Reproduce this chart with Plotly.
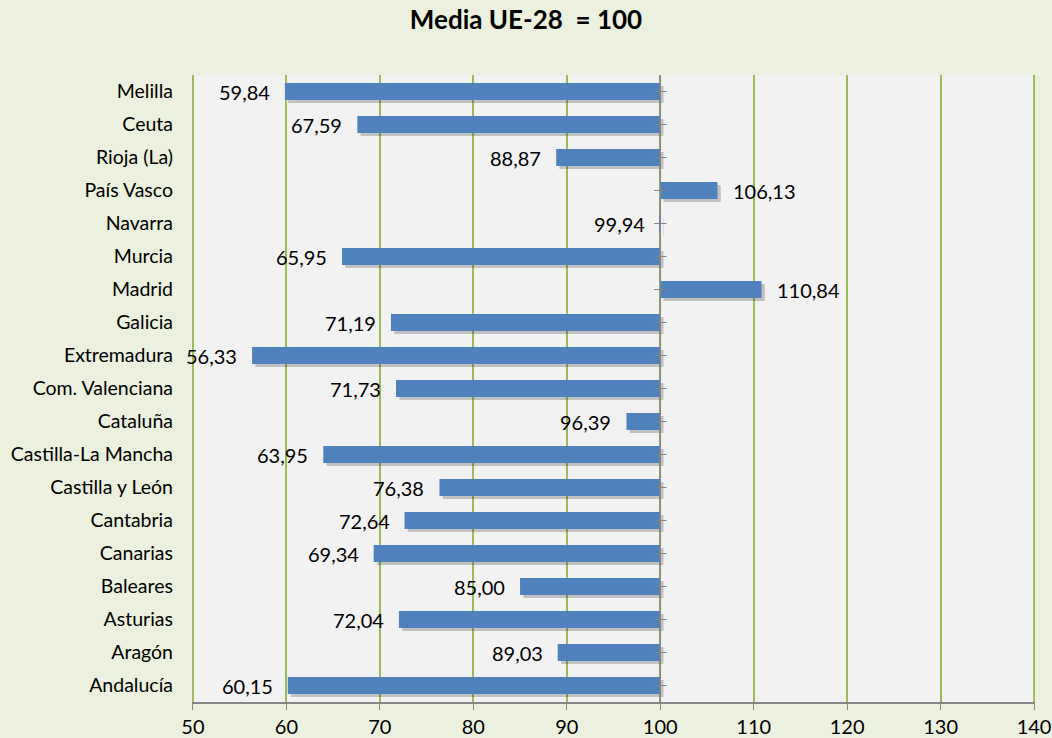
import plotly.graph_objects as go

regions = ["Andalucía", "Aragón", "Asturias", "Baleares", "Canarias", "Cantabria",
           "Castilla y León", "Castilla-La Mancha", "Cataluña", "Com. Valenciana",
           "Extremadura", "Galicia", "Madrid", "Murcia", "Navarra", "País Vasco",
           "Rioja (La)", "Ceuta", "Melilla"]
values = [60.15, 89.03, 72.04, 85.00, 69.34, 72.64, 76.38, 63.95, 96.39, 71.73,
          56.33, 71.19, 110.84, 65.95, 99.94, 106.13, 88.87, 67.59, 59.84]
BASE = 100
x_ticks = [50, 60, 70, 80, 90, 100, 110, 120, 130, 140]

labels = [f"{v:.2f}".replace(".", ",") for v in values]
FONT = "Lato, Open Sans, sans-serif"
BAR_W = 0.52
SHADOW_DX = 0.35
GRID = "#9bbb59"

fig = go.Figure()
# edge gridlines (plotly drops gridlines at the plot edges)
for gx in (x_ticks[0], x_ticks[-1]):
    fig.add_shape(type="line", xref="x", yref="paper", x0=gx, x1=gx, y0=0, y1=1,
                  line=dict(color=GRID, width=2), layer="below")
# shadow
fig.add_trace(go.Bar(
    y=regions, x=[v - BASE for v in values], base=[BASE + SHADOW_DX] * len(values),
    orientation="h", width=BAR_W, offset=-BAR_W / 2 - 0.09,
    marker=dict(color="rgba(0,0,0,0.2)", line=dict(width=0)),
    hoverinfo="skip", showlegend=False))
# bars
fig.add_trace(go.Bar(
    y=regions, x=[v - BASE for v in values], base=[BASE] * len(values),
    orientation="h", width=BAR_W,
    marker=dict(color="#4f81bd", line=dict(width=0)),
    showlegend=False))
# category axis line at base with ticks
fig.add_trace(go.Scatter(
    y=regions, x=[BASE] * len(regions), mode="markers",
    marker=dict(symbol="line-ew", size=9, line=dict(color="#868686", width=1)),
    hoverinfo="skip", showlegend=False, cliponaxis=False))
fig.add_shape(type="line", xref="x", yref="paper", x0=BASE, x1=BASE, y0=0, y1=1,
              line=dict(color="#868686", width=1.5))

# data labels
for r, v, t in zip(regions, values, labels):
    right = v >= BASE
    fig.add_annotation(x=v, y=r, text=t, showarrow=False,
                       xanchor="left" if right else "right",
                       xshift=13 if right else -13,
                       font=dict(family=FONT, size=20, color="#000000"))

fig.update_layout(
    width=1052, height=738,
    margin=dict(l=192, r=17, t=75, b=36),
    paper_bgcolor="#ebf1de", plot_bgcolor="#f2f2f2",
    barmode="overlay",
    title=dict(text="<b>Media UE-28  = 100</b>", x=0.5, xanchor="center",
               y=1 - 20 / 738, yanchor="middle",
               font=dict(family=FONT, size=26, color="#000000")),
    font=dict(family=FONT, size=20, color="#000000"),
    xaxis=dict(range=[49.9, 140.1], tickvals=x_ticks, showgrid=True,
               gridcolor=GRID, gridwidth=2, zeroline=False,
               showline=True, linecolor="#868686", linewidth=2,
               ticks="outside", ticklen=6, tickcolor="#868686",
               ticklabeloverflow="allow", automargin=False,
               tickfont=dict(family=FONT, size=20)),
    yaxis=dict(categoryorder="array", categoryarray=regions,
               range=[-0.5, len(regions) - 0.5], showgrid=False, zeroline=False,
               ticks="", ticklabelstandoff=18, automargin=False,
               tickfont=dict(family=FONT, size=19.5)),
)

fig.write_html("out.html", config={"displayModeBar": False},
               post_script="document.body.style.margin='0';")
